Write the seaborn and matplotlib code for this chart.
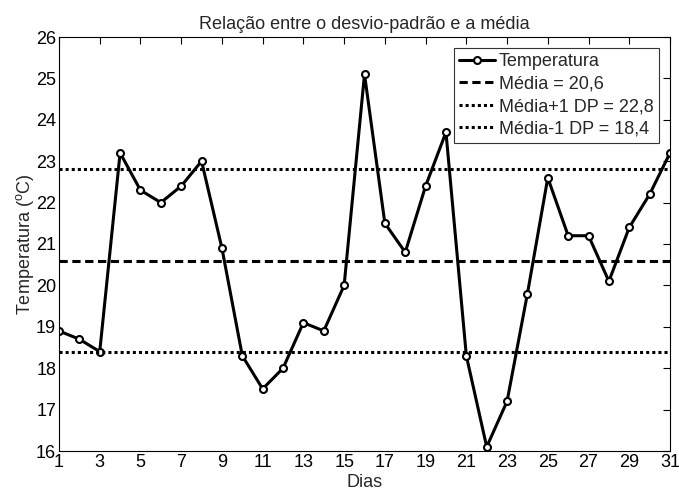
import matplotlib
matplotlib.use("Agg")
import matplotlib.pyplot as plt
import seaborn as sns
import numpy as np
import pandas as pd

dias = list(range(1, 32))
temperatura = [18.9, 18.7, 18.4, 23.2, 22.3, 22.0, 22.4, 23.0, 20.9, 18.3,
               17.5, 18.0, 19.1, 18.9, 20.0, 25.1, 21.5, 20.8, 22.4, 23.7,
               18.3, 16.1, 17.2, 19.8, 22.6, 21.2, 21.2, 20.1, 21.4, 22.2, 23.2]
media = 20.6
dp_mais = 22.8
dp_menos = 18.4
x_ticks = list(range(1, 32, 2))
y_ticks = list(range(16, 27))

sns.set_theme(style="white")
plt.rcParams['font.family'] = ['Liberation Sans', 'DejaVu Sans']
plt.rcParams['mathtext.fontset'] = 'custom'
plt.rcParams['mathtext.rm'] = 'Liberation Sans'

fig = plt.figure(figsize=(6.79, 4.93), dpi=100)
ax = fig.add_axes([59/679, 1 - 451/493, (670-59)/679, (451-37)/493])

df = pd.DataFrame({"Dias": dias, "Temperatura": temperatura})
sns.lineplot(data=df, x="Dias", y="Temperatura", ax=ax, color="black",
             linewidth=2.2, marker="o", markersize=5, markerfacecolor="white",
             markeredgecolor="black", markeredgewidth=1.5, label="Temperatura")
ax.axhline(media, color="black", linestyle=(0, (2.7, 1.5)), linewidth=2.2,
           label="Média = 20,6")
ax.axhline(dp_mais, color="black", linestyle=(0, (1, 1)), linewidth=2.2,
           label="Média+1 DP = 22,8")
ax.axhline(dp_menos, color="black", linestyle=(0, (1, 1)), linewidth=2.2,
           label="Média-1 DP = 18,4")

ax.set_xlim(1, 31)
ax.set_ylim(16, 26)
ax.set_xticks(x_ticks)
ax.set_yticks(y_ticks)
ax.tick_params(direction="in", top=True, right=True, length=5, width=0.8,
               labelsize=13, colors="black", pad=2)
for s in ax.spines.values():
    s.set_color("black")
    s.set_linewidth(0.8)

ax.set_xlabel("Dias", fontsize=13, labelpad=2)
ax.set_ylabel("Temperatura ($^{\\mathrm{o}}$C)", fontsize=13, labelpad=0)
ax.set_title("Relação entre o desvio-padrão e a média", fontsize=13, pad=6)

leg = ax.legend(loc="upper right", fontsize=13, frameon=True, fancybox=False,
                edgecolor="black", handlelength=2.0, handletextpad=0.2,
                borderpad=0.3, labelspacing=0.3, borderaxespad=0.6)
leg.get_frame().set_linewidth(0.8)

fig.savefig("out.png", dpi=100)
